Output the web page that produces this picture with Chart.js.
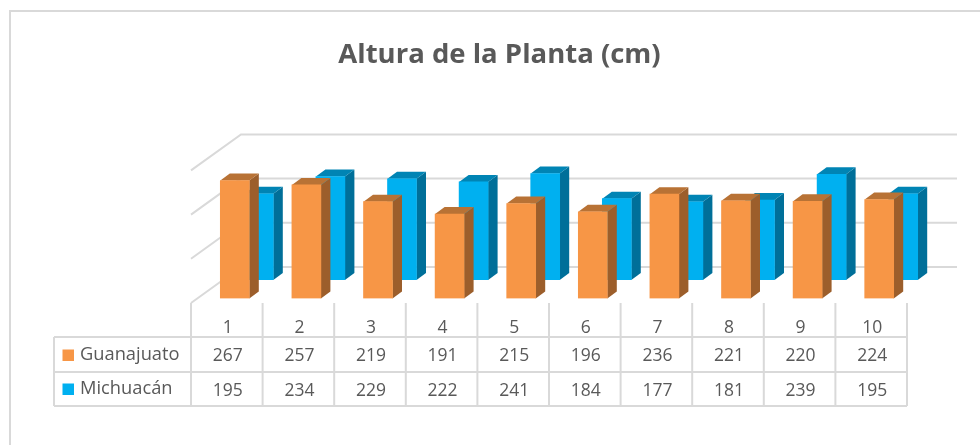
<!DOCTYPE html>
<html>
<head>
<meta charset="utf-8">
<title>Altura de la Planta (cm)</title>
<script src="https://cdn.jsdelivr.net/npm/chart.js@4/dist/chart.umd.min.js"></script>
<style>
    html, body { margin: 0; padding: 0; background: #fff; overflow: hidden; }
    #grafico { display: block; }
</style>
</head>
<body>
<canvas id="grafico" width="980" height="445"></canvas>
<script>
// Datos de la gráfica
const categorias = ['1', '2', '3', '4', '5', '6', '7', '8', '9', '10'];
const guanajuato = [267, 257, 219, 191, 215, 196, 236, 221, 220, 224];
const michuacan = [195, 234, 229, 222, 241, 184, 177, 181, 239, 195];

const FUENTE = '"Open Sans", sans-serif';
const GRIS_TEXTO = '#595959';
const GRIS_LINEA = '#d9d9d9';

// Caras de cada serie: frente, tapa y lateral
const estilos = [
    { frente: '#f79646', tapa: '#b87235', lado: '#9c5e2b', dx: 8, dy: 0 },
    { frente: '#00b0f0', tapa: '#0084b4', lado: '#006f99', dx: 32, dy: -18.5 }
];
const PROF_X = 9.5;
const PROF_Y = -7;

// Paredes y rejilla de fondo, detrás de las barras
const pluginFondo = {
    id: 'fondo',
    beforeDatasetsDraw(chart) {
        const { ctx, chartArea, scales } = chart;
        ctx.save();
        ctx.strokeStyle = GRIS_LINEA;
        ctx.lineWidth = 2;
        scales.y.ticks.forEach(t => {
            const y = scales.y.getPixelForValue(t.value);
            ctx.beginPath();
            ctx.moveTo(chartArea.left, y + 4.5);
            ctx.lineTo(chartArea.left + 50, y - 31.5);
            ctx.lineTo(chartArea.right + 50, y - 31.5);
            ctx.stroke();
        });
        ctx.restore();
    }
};

// Volumen de las barras: cada serie se desplaza como en la vista 3D
const plugin3D = {
    id: 'barras3d',
    beforeDatasetDraw(chart, args) {
        const { ctx } = chart;
        const e = estilos[args.index];
        ctx.save();
        ctx.translate(e.dx, e.dy);
        chart.getDatasetMeta(args.index).data.forEach(barra => {
            const der = barra.x + barra.width / 2;
            const izq = barra.x - barra.width / 2;
            ctx.fillStyle = e.lado;
            ctx.beginPath();
            ctx.moveTo(der, barra.y);
            ctx.lineTo(der + PROF_X, barra.y + PROF_Y);
            ctx.lineTo(der + PROF_X, barra.base + PROF_Y);
            ctx.lineTo(der, barra.base);
            ctx.closePath();
            ctx.fill();
            ctx.fillStyle = e.tapa;
            ctx.beginPath();
            ctx.moveTo(izq, barra.y);
            ctx.lineTo(izq + PROF_X, barra.y + PROF_Y);
            ctx.lineTo(der + PROF_X, barra.y + PROF_Y);
            ctx.lineTo(der, barra.y);
            ctx.closePath();
            ctx.fill();
        });
    },
    afterDatasetDraw(chart) {
        chart.ctx.restore();
    }
};

// Marco y tabla de datos bajo el eje
const pluginTabla = {
    id: 'tabla',
    beforeDraw(chart) {
        const { ctx } = chart;
        ctx.save();
        ctx.strokeStyle = GRIS_LINEA;
        ctx.lineWidth = 2;
        ctx.beginPath();
        ctx.moveTo(10, 445);
        ctx.lineTo(10, 11);
        ctx.lineTo(980, 11);
        ctx.stroke();
        ctx.restore();
    },
    afterDraw(chart) {
        const { ctx, chartArea, scales } = chart;
        const izq = chartArea.left;
        const der = chartArea.right;
        const filas = [337, 372, 406];
        const paso = (der - izq) / categorias.length;

        ctx.save();
        ctx.strokeStyle = GRIS_LINEA;
        ctx.lineWidth = 2;
        ctx.beginPath();
        filas.forEach(y => {
            ctx.moveTo(54, y);
            ctx.lineTo(der, y);
        });
        ctx.moveTo(54, filas[0]);
        ctx.lineTo(54, filas[2]);
        for (let i = 0; i <= categorias.length; i++) {
            ctx.moveTo(izq + paso * i, 303);
            ctx.lineTo(izq + paso * i, filas[2]);
        }
        ctx.stroke();

        ctx.font = '17.5px ' + FUENTE;
        ctx.fillStyle = GRIS_TEXTO;
        ctx.textAlign = 'center';
        ctx.textBaseline = 'middle';
        categorias.forEach((c, i) => {
            const x = scales.x.getPixelForValue(i) + 1;
            ctx.fillText(c, x, 328);
            ctx.fillText(String(guanajuato[i]), x, 356);
            ctx.fillText(String(michuacan[i]), x, 391);
        });

        ctx.font = '18.3px ' + FUENTE;
        chart.data.datasets.forEach((ds, i) => {
            const y = i === 0 ? 355 : 389;
            ctx.fillStyle = ds.backgroundColor;
            ctx.fillRect(62.5, y - 5.5, 11.5, 11.5);
            ctx.fillStyle = GRIS_TEXTO;
            ctx.textAlign = 'left';
            ctx.fillText(ds.label, 80, y);
        });
        ctx.restore();
    }
};

new Chart(document.getElementById('grafico'), {
    type: 'bar',
    data: {
        labels: categorias,
        datasets: [
            { label: 'Guanajuato', data: guanajuato, backgroundColor: estilos[0].frente },
            { label: 'Michuacán', data: michuacan, backgroundColor: estilos[1].frente }
        ]
    },
    options: {
        responsive: false,
        animation: false,
        grouped: false,
        barThickness: 29,
        // el título se centra en el ancho entre paddings; el eje y completa el margen izquierdo
        layout: { padding: { left: 92, right: 73, top: 0, bottom: 146.5 } },
        plugins: {
            legend: { display: false },
            tooltip: { enabled: false },
            title: {
                display: true,
                text: 'Altura de la Planta (cm)',
                color: GRIS_TEXTO,
                font: { family: FUENTE, size: 27.5, weight: 'bold', lineHeight: 1 },
                padding: { top: 41, bottom: 97.4 }
            }
        },
        scales: {
            x: { display: false },
            y: {
                min: 0,
                max: 300,
                ticks: { stepSize: 100, display: false },
                grid: { display: false },
                border: { display: false },
                afterFit(escala) { escala.width = 99; }
            }
        }
    },
    plugins: [pluginFondo, plugin3D, pluginTabla]
});
</script>
</body>
</html>
